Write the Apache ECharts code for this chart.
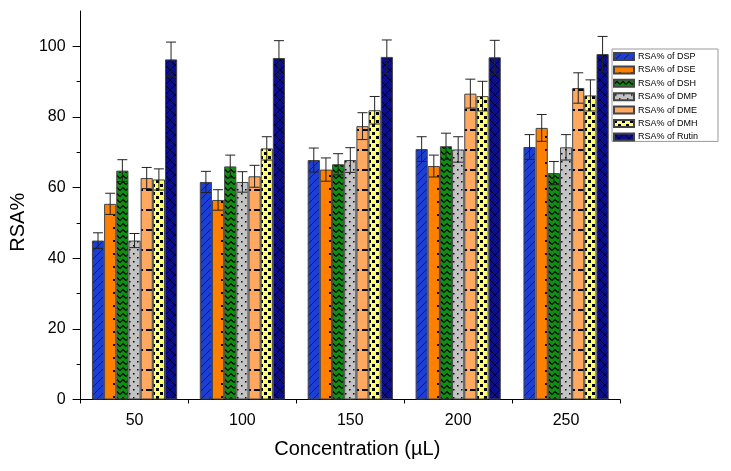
<!DOCTYPE html>
<html>
<head>
<meta charset="utf-8">
<script src="https://cdn.jsdelivr.net/npm/echarts@6/dist/echarts.min.js"></script>
<style>html,body{margin:0;padding:0;background:#fff;}#c{width:731px;height:471px;}</style>
</head>
<body>
<div id="c"></div>
<script>
// ---- data ----
const categories = ['50', '100', '150', '200', '250'];
const seriesNames = ['RSA% of DSP', 'RSA% of DSE', 'RSA% of DSH', 'RSA% of DMP', 'RSA% of DME', 'RSA% of DMH', 'RSA% of Rutin'];
const DSP   = [45.0, 61.6, 67.8, 70.9, 71.5];
const DSE   = [55.4, 56.5, 65.1, 66.1, 76.9];
const DSH   = [64.8, 66.0, 66.6, 71.7, 64.1];
const DMP   = [45.0, 61.6, 67.8, 70.8, 71.4];
const DME   = [62.7, 63.2, 77.4, 86.6, 88.2];
const DMH   = [62.3, 71.1, 81.9, 85.9, 86.1];
const Rutin = [96.3, 96.7, 97.0, 96.9, 97.8];
const errDSP   = [2.2, 3.0, 3.4, 3.5, 3.5];
const errDSE   = [3.0, 2.9, 3.3, 3.1, 3.8];
const errDSH   = [3.1, 3.2, 3.0, 3.7, 3.3];
const errDMP   = [2.0, 2.9, 3.5, 3.6, 3.6];
const errDME   = [3.0, 3.1, 3.8, 4.1, 4.3];
const errDMH   = [3.0, 3.3, 3.9, 4.2, 4.4];
const errRutin = [4.9, 4.9, 4.8, 4.8, 5.0];
const yMajorTicks = [0, 20, 40, 60, 80, 100];
const yMinorTicks = [10, 30, 50, 70, 90];

const values = [DSP, DSE, DSH, DMP, DME, DMH, Rutin];
const errors = [errDSP, errDSE, errDSH, errDMP, errDME, errDMH, errRutin];

// ---- patterns ----
function pat(w, h, bg, draw) {
  const c = document.createElement('canvas');
  c.width = w; c.height = h;
  const ctx = c.getContext('2d');
  ctx.fillStyle = bg; ctx.fillRect(0, 0, w, h);
  ctx.fillStyle = '#000'; ctx.strokeStyle = '#000';
  draw(ctx);
  return { image: c, repeat: 'repeat' };
}
const patterns = [
  pat(8, 8, '#1d3ed2', ctx => { ctx.strokeStyle = '#0a1c70'; ctx.lineWidth = 1;
    ctx.beginPath(); ctx.moveTo(0, 8); ctx.lineTo(8, 0); ctx.moveTo(-1, 1); ctx.lineTo(1, -1); ctx.moveTo(7, 9); ctx.lineTo(9, 7); ctx.stroke(); }),
  pat(12, 13, '#ff8000', ctx => { ctx.fillRect(5, 6, 2, 2); }),
  pat(6, 6, '#0f8f12', ctx => { ctx.lineWidth = 1.2; ctx.beginPath(); ctx.moveTo(0, 4.5); ctx.lineTo(3, 1.5); ctx.lineTo(6, 4.5); ctx.stroke(); }),
  pat(8, 8, '#c3c3c3', ctx => { ctx.fillRect(1, 1, 1.5, 1.5); ctx.fillRect(5, 5, 1.5, 1.5); }),
  pat(12, 20, '#ffa860', ctx => { ctx.fillRect(2, 9, 9, 2); }),
  pat(8, 8, '#ffff66', ctx => { ctx.fillRect(0, 0, 3, 3); ctx.fillRect(4, 4, 3, 3); }),
  pat(10, 10, '#0b0f8e', ctx => { ctx.strokeStyle = '#000030'; ctx.lineWidth = 1;
    ctx.beginPath(); ctx.moveTo(0, 0); ctx.lineTo(10, 10); ctx.moveTo(0, 10); ctx.lineTo(10, 0); ctx.stroke(); })
];

const GAP = 0.21;
const nS = seriesNames.length;

const barSeries = seriesNames.map((name, i) => ({
  name: name,
  type: 'bar',
  xAxisIndex: 0, yAxisIndex: 0,
  data: values[i],
  barGap: '0%',
  barCategoryGap: (GAP * 100) + '%',
  itemStyle: { color: patterns[i], borderColor: '#444', borderWidth: 1 },
  emphasis: { disabled: true },
  animation: false,
  z: 2
}));

const errData = [];
values.forEach((arr, s) => arr.forEach((v, j) => errData.push([j, v, errors[s][j], s])));

const errSeries = {
  type: 'custom',
  xAxisIndex: 0, yAxisIndex: 0,
  data: errData,
  encode: { x: 0, y: 1 },
  z: 10,
  animation: false,
  silent: true,
  renderItem: function (params, api) {
    const j = api.value(0), v = api.value(1), e = api.value(2), s = api.value(3);
    const base = api.coord([j, v]);
    const band = api.size([1, 0])[0];
    const bw = band * (1 - GAP) / nS;
    const x = base[0] + (s - (nS - 1) / 2) * bw;
    const top = api.coord([j, v + e])[1];
    const bot = api.coord([j, v - e])[1];
    const h = 5;
    const st = { stroke: '#222', lineWidth: 1, fill: null };
    return { type: 'group', children: [
      { type: 'line', shape: { x1: x, y1: top, x2: x, y2: bot }, style: st },
      { type: 'line', shape: { x1: x - h, y1: top, x2: x + h, y2: top }, style: st },
      { type: 'line', shape: { x1: x - h, y1: bot, x2: x + h, y2: bot }, style: st }
    ]};
  }
};

const chart = echarts.init(document.getElementById('c'), null, { renderer: 'canvas' });
chart.setOption({
  backgroundColor: '#fff',
  animation: false,
  textStyle: { fontFamily: 'Liberation Sans, Arial, sans-serif' },
  grid: { left: 80, right: 111, top: 11, bottom: 71.5, containLabel: false },
  legend: {
    data: seriesNames,
    orient: 'vertical',
    left: 612, top: 49,
    padding: [3, 20, 0, 1],
    itemWidth: 20, itemHeight: 7, itemGap: 4.4,
    backgroundColor: '#fff',
    borderColor: '#999', borderWidth: 1, borderRadius: 0,
    icon: 'rect',
    selectedMode: false,
    textStyle: { fontSize: 9, lineHeight: 9, color: '#000', fontFamily: 'Liberation Sans, Arial, sans-serif', padding: [0, 0, 0, -1] }
  },
  xAxis: [{
    type: 'category',
    data: categories,
    position: 'bottom',
    name: 'Concentration (µL)',
    nameLocation: 'middle',
    nameGap: 40,
    nameTextStyle: { fontSize: 20, color: '#000', padding: [0, 0, 0, 14] },
    axisLine: { lineStyle: { color: '#000', width: 1 } },
    axisTick: { alignWithLabel: true, length: 7, lineStyle: { color: '#000' } },
    axisLabel: { fontSize: 16, color: '#000', margin: 13 },
    splitLine: { show: false }
  }, {
    type: 'category',
    data: categories,
    position: 'bottom',
    axisLine: { show: false },
    axisTick: { show: true, length: 4, lineStyle: { color: '#000' } },
    axisLabel: { show: false },
    splitLine: { show: false }
  }],
  yAxis: [{
    type: 'value',
    min: 0, max: 110, interval: 20,
    position: 'left',
    name: 'RSA%',
    nameLocation: 'middle',
    nameGap: 50,
    nameRotate: 90,
    nameTextStyle: { fontSize: 20, color: '#000', padding: [0, 34, 0, 0] },
    axisLine: { show: true, lineStyle: { color: '#000', width: 1 } },
    axisTick: { show: true, length: 8, customValues: yMajorTicks, lineStyle: { color: '#000' } },
    axisLabel: { fontSize: 16, color: '#000', margin: 15, customValues: yMajorTicks },
    splitLine: { show: false }
  }, {
    type: 'value',
    min: 0, max: 110, interval: 10,
    position: 'left',
    offset: 0,
    axisLine: { show: false },
    axisTick: { show: true, length: 4, customValues: yMinorTicks, lineStyle: { color: '#000' } },
    axisLabel: { show: false },
    splitLine: { show: false }
  }],
  series: barSeries.concat([errSeries])
});
</script>
</body>
</html>
